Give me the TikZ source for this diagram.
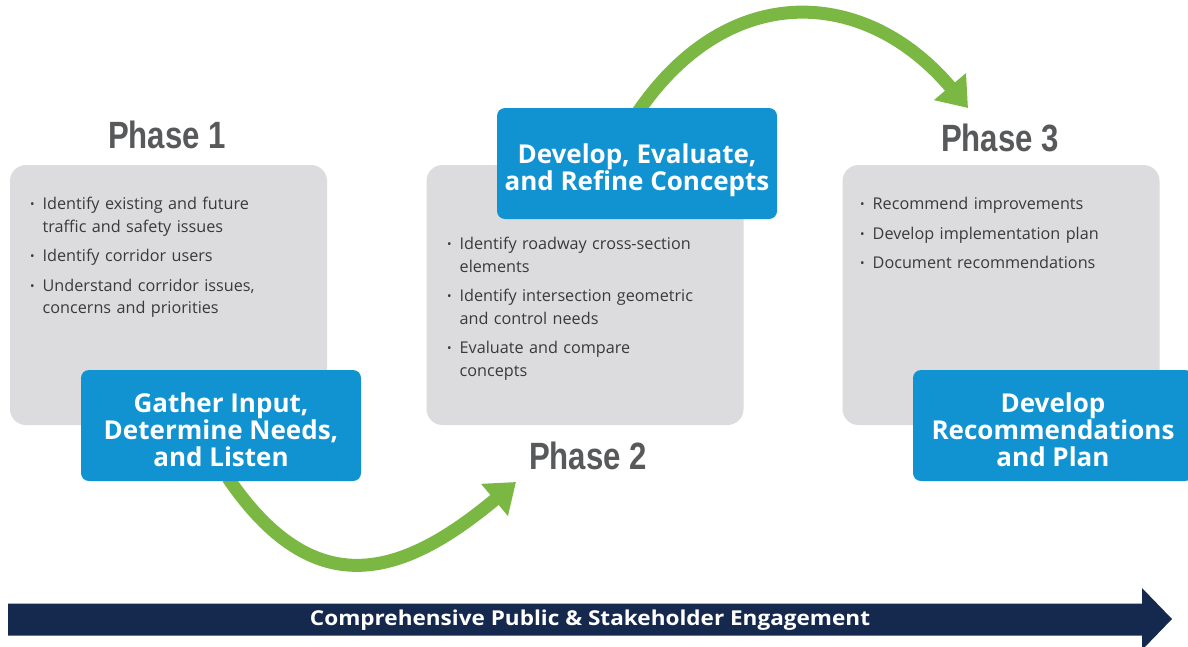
\documentclass[tikz,border=0pt]{standalone}
\usepackage{fontspec}
\setmainfont{Open Sans}
\newfontfamily\titlefont{Liberation Sans}[FakeStretch=0.82]
\newfontfamily\bannerfont{Open Sans}[FakeStretch=1.1]
\usetikzlibrary{arrows.meta}
\definecolor{grayboxc}{HTML}{DCDCDE}
\definecolor{bluec}{HTML}{1193D2}
\definecolor{greenc}{HTML}{7AB843}
\definecolor{navyc}{HTML}{15294E}
\definecolor{titlec}{HTML}{58595B}
\definecolor{bodyc}{HTML}{3A3A3C}
\newcommand{\bitem}[1]{\par\hangindent=12.5pt\hangafter=1\noindent\makebox[12.5pt][l]{\raisebox{1.2pt}{\fontsize{12}{12}\selectfont\textbullet}}#1\par}
\tikzset{
  graybox/.style={fill=grayboxc, rounded corners=16pt, minimum width=317pt, minimum height=260pt, inner sep=0pt},
  bluebox/.style={fill=bluec, rounded corners=8pt, minimum width=280pt, minimum height=111pt, inner sep=0pt},
  bluetext/.style={text=white, align=center, inner sep=0pt, font=\fontsize{26}{27}\selectfont\bfseries},
  phasetitle/.style={text=titlec, inner sep=0pt, font=\titlefont\bfseries\fontsize{38}{40}\selectfont},
  bullets/.style={text=bodyc, anchor=north west, inner sep=0pt, text width=300pt, align=left,
    font=\fontsize{16.2}{22.5}\selectfont\setlength{\parskip}{7pt}},
  flow/.style={draw=greenc, line width=13pt, -{Triangle[width=40pt,length=28pt]}},
  bannertext/.style={text=white, inner sep=0pt, font=\bannerfont\fontsize{20.5}{22}\selectfont\bfseries}
}
\begin{document}
\begin{tikzpicture}[x=1pt,y=-1pt]
\useasboundingbox (0,0) rectangle (1188,646);
\fill[white] (0,0) rectangle (1188,646);

% gray boxes
\node[graybox] (g1) at (168.5,295) {};
\node[graybox] (g2) at (585,295) {};
\node[graybox] (g3) at (1001,295) {};

% titles
\node[phasetitle] (t1) at (167,135) {Phase 1};
\node[phasetitle] (t2) at (588,456) {Phase 2};
\node[phasetitle] (t3) at (1000,138) {Phase 3};

% connectors (behind blue boxes)
\coordinate (a1s) at (228,478);
\coordinate (a1e) at (516,482);
\coordinate (a2s) at (638,112);
\coordinate (a2e) at (968,108);
\draw[flow] (a1s) .. controls (314,604) and (401,578) .. (a1e);
\draw[flow] (a2s) .. controls (729,-21) and (866,-13) .. (a2e);

% bullet lists
\node[bullets] (l1) at (30,180) {%
\bitem{Identify existing and future\newline traffic and safety issues}
\bitem{Identify corridor users}
\bitem{Understand corridor issues,\newline concerns and priorities}};
\node[bullets] (l2) at (447,220) {%
\bitem{Identify roadway cross-section\newline elements}
\bitem{Identify intersection geometric\newline and control needs}
\bitem{Evaluate and compare\newline concepts}};
\node[bullets] (l3) at (860,180) {%
\bitem{Recommend improvements}
\bitem{Develop implementation plan}
\bitem{Document recommendations}};

% blue boxes
\node[bluebox] (b1) at (221,425.5) {};
\node[bluetext] (b1t) at (221,430) {Gather Input,\\Determine Needs,\\and Listen};
\node[bluebox] (b2) at (637,163.5) {};
\node[bluetext] (b2t) at (637,170) {Develop, Evaluate,\\and Refine Concepts};
\node[bluebox] (b3) at (1053,425.5) {};
\node[bluetext] (b3t) at (1053,430) {Develop\\Recommendations\\and Plan};

% engagement banner
\fill[navyc] (8,603.5) -- (1142,603.5) -- (1142,588) -- (1172,619) -- (1142,650) -- (1142,635.5) -- (8,635.5) -- cycle;
\node[bannertext] (eng) at (590,620) {Comprehensive Public \& Stakeholder Engagement};
\end{tikzpicture}
\end{document}
